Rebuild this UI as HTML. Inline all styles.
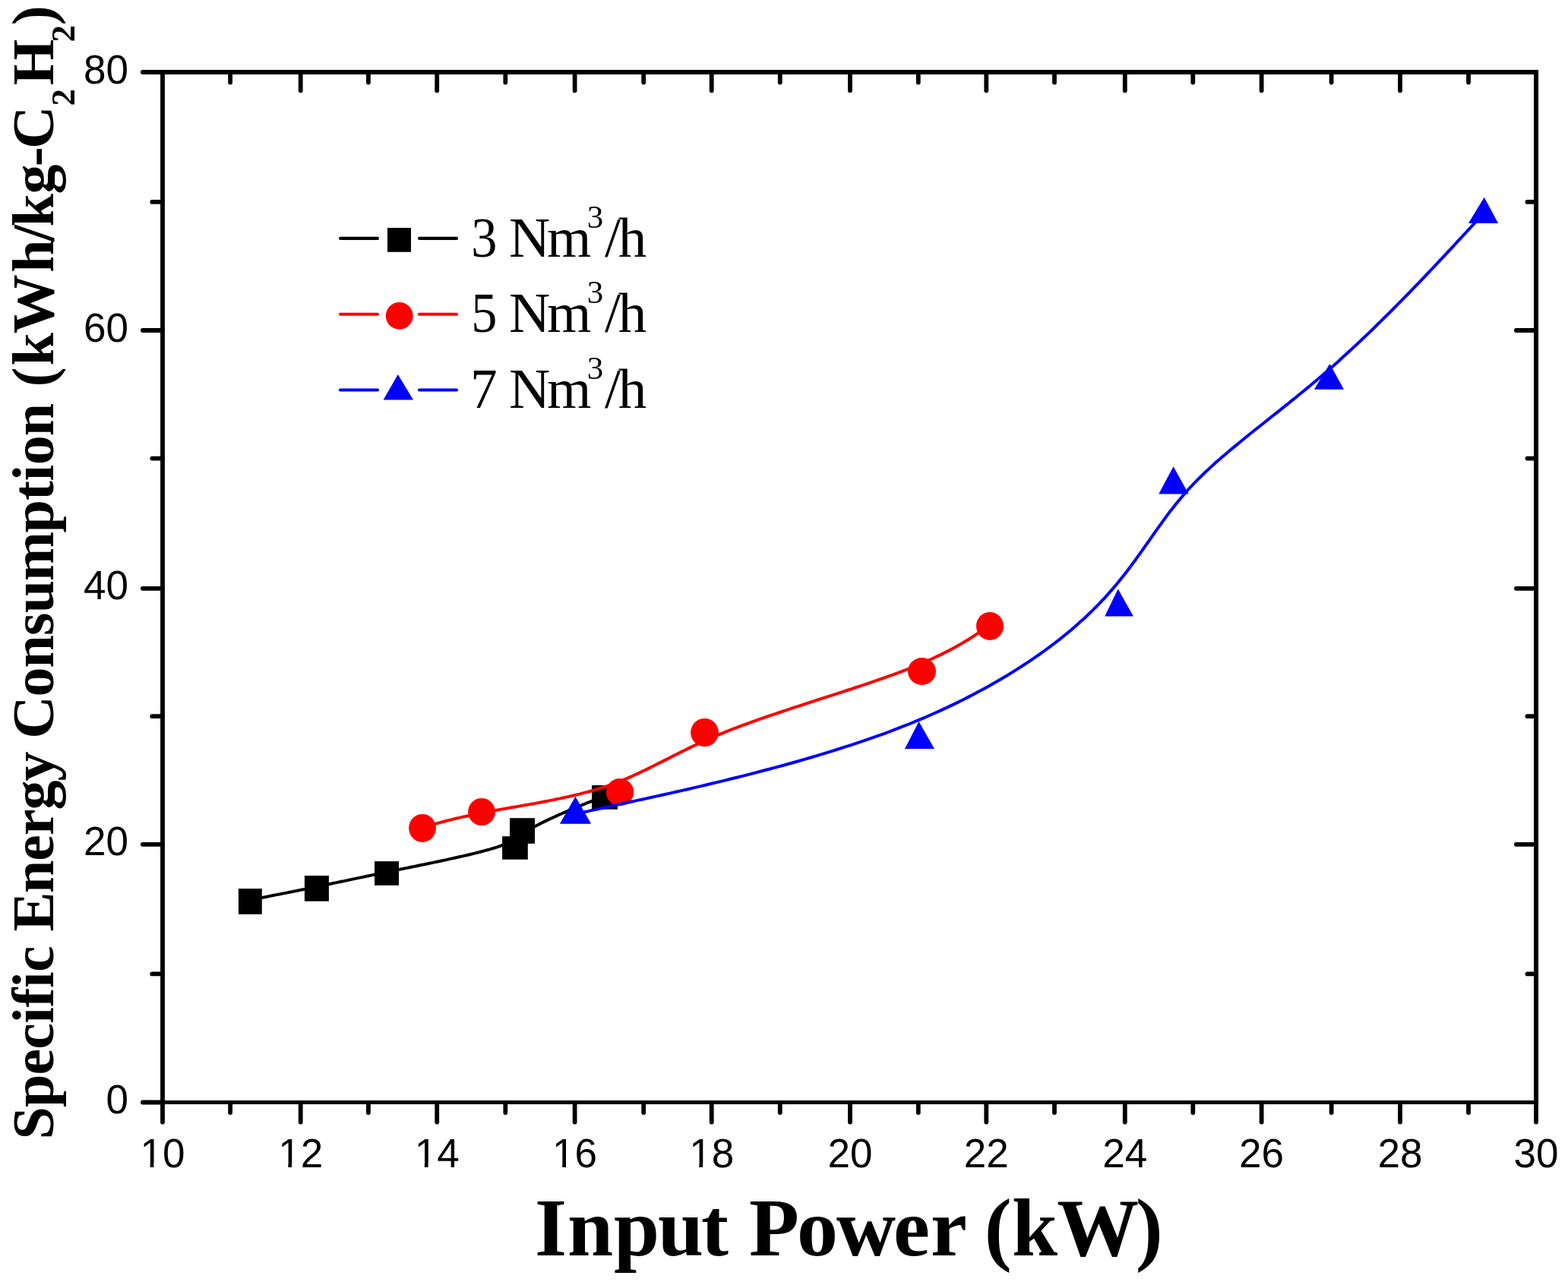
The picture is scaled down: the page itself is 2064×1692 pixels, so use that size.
<!DOCTYPE html>
<html><head><meta charset="utf-8"><title>Specific Energy Consumption vs Input Power</title>
<style>html,body{margin:0;padding:0;background:#fff;overflow:hidden;}svg{display:block;}</style>
</head><body>
<svg width="2064" height="1692" viewBox="0 0 2064 1692">
<rect width="2064" height="1692" fill="#fff"/>
<path d="M329.4,1184.9 L329.5,1184.9 L329.6,1184.9 L329.7,1184.9 L329.8,1184.9 L329.9,1184.9 L330.1,1184.8 L330.2,1184.8 L330.3,1184.8 L330.5,1184.7 L330.7,1184.7 L330.9,1184.7 L331.1,1184.6 L331.4,1184.6 L331.7,1184.5 L332.0,1184.4 L332.3,1184.4 L332.7,1184.3 L333.1,1184.2 L333.5,1184.2 L333.9,1184.1 L334.4,1184.0 L334.9,1183.9 L335.5,1183.8 L336.1,1183.6 L336.7,1183.5 L337.4,1183.4 L338.1,1183.3 L338.8,1183.1 L339.6,1183.0 L340.4,1182.8 L341.3,1182.6 L342.2,1182.5 L343.1,1182.3 L344.2,1182.1 L345.2,1181.9 L346.3,1181.7 L347.4,1181.4 L348.6,1181.2 L349.9,1181.0 L351.1,1180.7 L352.4,1180.4 L353.8,1180.2 L355.2,1179.9 L356.6,1179.6 L358.1,1179.3 L359.6,1179.0 L361.1,1178.7 L362.7,1178.4 L364.3,1178.1 L365.9,1177.8 L367.6,1177.5 L369.3,1177.1 L371.0,1176.8 L372.8,1176.4 L374.6,1176.1 L376.4,1175.7 L378.2,1175.4 L380.1,1175.0 L381.9,1174.6 L383.8,1174.2 L385.7,1173.9 L387.7,1173.5 L389.6,1173.1 L391.6,1172.7 L393.6,1172.3 L395.6,1171.9 L397.6,1171.5 L399.6,1171.1 L401.7,1170.7 L403.7,1170.2 L405.8,1169.8 L407.8,1169.4 L409.9,1169.0 L412.0,1168.5 L414.1,1168.1 L416.2,1167.7 L418.3,1167.3 L420.4,1166.8 L422.5,1166.4 L424.6,1166.0 L426.7,1165.5 L428.8,1165.1 L430.9,1164.6 L433.1,1164.2 L435.2,1163.7 L437.4,1163.3 L439.5,1162.8 L441.7,1162.4 L443.9,1161.9 L446.1,1161.5 L448.3,1161.0 L450.5,1160.5 L452.8,1160.1 L455.1,1159.6 L457.3,1159.1 L459.6,1158.6 L462.0,1158.1 L464.3,1157.6 L466.7,1157.1 L469.1,1156.6 L471.5,1156.1 L473.9,1155.6 L476.4,1155.1 L478.9,1154.6 L481.4,1154.0 L483.9,1153.5 L486.5,1153.0 L489.1,1152.4 L491.8,1151.9 L494.4,1151.3 L497.1,1150.8 L499.9,1150.2 L502.7,1149.6 L505.5,1149.0 L508.3,1148.5 L511.2,1147.9 L514.1,1147.3 L517.1,1146.7 L520.1,1146.0 L523.1,1145.4 L526.2,1144.8 L529.3,1144.1 L532.5,1143.5 L535.7,1142.9 L538.9,1142.2 L542.1,1141.5 L545.4,1140.9 L548.7,1140.2 L552.0,1139.5 L555.3,1138.8 L558.6,1138.2 L561.9,1137.5 L565.3,1136.8 L568.6,1136.1 L571.9,1135.4 L575.3,1134.7 L578.6,1134.0 L581.9,1133.3 L585.2,1132.6 L588.5,1131.9 L591.8,1131.1 L595.0,1130.4 L598.2,1129.7 L601.4,1129.0 L604.6,1128.3 L607.7,1127.6 L610.8,1126.9 L613.8,1126.2 L616.8,1125.5 L619.8,1124.8 L622.7,1124.1 L625.5,1123.4 L628.3,1122.7 L631.0,1122.0 L633.7,1121.3 L636.3,1120.6 L638.9,1119.9 L641.4,1119.2 L643.8,1118.6 L646.1,1117.9 L648.3,1117.2 L650.5,1116.6 L652.6,1115.9 L654.6,1115.3 L656.5,1114.6 L658.3,1114.0 L660.0,1113.4 L661.7,1112.7 L663.3,1112.1 L664.9,1111.5 L666.4,1110.9 L667.8,1110.3 L669.2,1109.6 L670.5,1109.0 L671.8,1108.4 L673.0,1107.8 L674.2,1107.2 L675.4,1106.6 L676.5,1106.0 L677.5,1105.4 L678.6,1104.8 L679.6,1104.1 L680.6,1103.5 L681.6,1102.9 L682.6,1102.3 L683.5,1101.7 L684.5,1101.0 L685.4,1100.4 L686.3,1099.8 L687.3,1099.1 L688.2,1098.5 L689.2,1097.8 L690.1,1097.2 L691.1,1096.5 L692.1,1095.8 L693.1,1095.1 L694.1,1094.5 L695.2,1093.8 L696.3,1093.1 L697.4,1092.3 L698.5,1091.6 L699.7,1090.9 L701.0,1090.1 L702.3,1089.4 L703.6,1088.6 L705.0,1087.8 L706.4,1087.0 L707.9,1086.2 L709.4,1085.4 L711.0,1084.6 L712.6,1083.8 L714.3,1082.9 L716.0,1082.1 L717.7,1081.3 L719.5,1080.4 L721.3,1079.6 L723.1,1078.7 L724.9,1077.8 L726.8,1077.0 L728.7,1076.1 L730.6,1075.3 L732.5,1074.4 L734.4,1073.5 L736.3,1072.7 L738.2,1071.8 L740.2,1071.0 L742.1,1070.2 L744.0,1069.3 L745.9,1068.5 L747.8,1067.7 L749.7,1066.9 L751.6,1066.1 L753.5,1065.3 L755.3,1064.5 L757.1,1063.7 L758.9,1063.0 L760.7,1062.2 L762.5,1061.5 L764.2,1060.8 L765.9,1060.1 L767.5,1059.4 L769.1,1058.8 L770.6,1058.2 L772.2,1057.5 L773.6,1056.9 L775.0,1056.4 L776.4,1055.8 L777.7,1055.3 L778.9,1054.8 L780.1,1054.3 L781.3,1053.8 L782.3,1053.4 L783.4,1053.0 L784.3,1052.6 L785.2,1052.2 L786.1,1051.9 L786.9,1051.5 L787.7,1051.2 L788.4,1050.9 L789.1,1050.6 L789.8,1050.4 L790.3,1050.1 L790.9,1049.9 L791.4,1049.7 L791.9,1049.5 L792.4,1049.3 L792.8,1049.1 L793.2,1049.0 L793.5,1048.8 L793.8,1048.7 L794.1,1048.6 L794.4,1048.5 L794.6,1048.4 L794.8,1048.3 L795.0,1048.2 L795.2,1048.2 L795.3,1048.1 L795.4,1048.1 L795.6,1048.0 L795.7,1047.9 L795.8,1047.9 L795.9,1047.9 L796.0,1047.8" fill="none" stroke="#000" stroke-width="4.0" stroke-linejoin="round"/>
<rect x="313.9" y="1170.1" width="30.9" height="33.7" fill="#000"/>
<rect x="400.9" y="1153.0" width="32.0" height="33.7" fill="#000"/>
<rect x="493.0" y="1134.1" width="32.0" height="31.7" fill="#000"/>
<rect x="661.1" y="1101.2" width="33.7" height="30.5" fill="#000"/>
<rect x="671.0" y="1077.2" width="33.0" height="33.6" fill="#000"/>
<rect x="779.0" y="1034.0" width="33.9" height="31.7" fill="#000"/>
<path d="M555.9,1089.4 L556.0,1089.4 L556.1,1089.4 L556.2,1089.3 L556.3,1089.3 L556.4,1089.3 L556.5,1089.2 L556.6,1089.2 L556.8,1089.2 L556.9,1089.1 L557.1,1089.1 L557.3,1089.0 L557.5,1089.0 L557.7,1088.9 L558.0,1088.8 L558.2,1088.8 L558.5,1088.7 L558.9,1088.6 L559.2,1088.5 L559.6,1088.4 L560.0,1088.3 L560.4,1088.2 L560.9,1088.0 L561.4,1087.9 L561.9,1087.8 L562.4,1087.6 L563.0,1087.5 L563.7,1087.3 L564.3,1087.1 L565.0,1086.9 L565.7,1086.7 L566.5,1086.5 L567.3,1086.3 L568.2,1086.0 L569.1,1085.8 L570.0,1085.5 L571.0,1085.3 L572.0,1085.0 L573.1,1084.7 L574.2,1084.4 L575.4,1084.1 L576.6,1083.8 L577.8,1083.4 L579.1,1083.1 L580.4,1082.7 L581.8,1082.4 L583.2,1082.0 L584.7,1081.6 L586.2,1081.2 L587.8,1080.8 L589.4,1080.4 L591.1,1080.0 L592.8,1079.6 L594.5,1079.1 L596.3,1078.7 L598.2,1078.3 L600.1,1077.8 L602.1,1077.3 L604.1,1076.9 L606.1,1076.4 L608.2,1075.9 L610.4,1075.4 L612.6,1075.0 L614.9,1074.5 L617.2,1074.0 L619.5,1073.4 L622.0,1072.9 L624.4,1072.4 L627.0,1071.9 L629.5,1071.4 L632.2,1070.8 L634.9,1070.3 L637.6,1069.8 L640.4,1069.2 L643.3,1068.7 L646.2,1068.1 L649.1,1067.6 L652.2,1067.0 L655.2,1066.5 L658.4,1065.9 L661.5,1065.4 L664.8,1064.8 L668.1,1064.2 L671.4,1063.6 L674.7,1063.1 L678.2,1062.5 L681.6,1061.9 L685.1,1061.3 L688.6,1060.6 L692.1,1060.0 L695.7,1059.4 L699.3,1058.7 L702.9,1058.1 L706.6,1057.4 L710.3,1056.7 L714.0,1056.0 L717.7,1055.3 L721.4,1054.6 L725.1,1053.9 L728.9,1053.1 L732.6,1052.3 L736.4,1051.6 L740.1,1050.8 L743.9,1049.9 L747.6,1049.1 L751.4,1048.2 L755.1,1047.4 L758.9,1046.5 L762.6,1045.6 L766.3,1044.6 L770.0,1043.6 L773.7,1042.7 L777.3,1041.7 L781.0,1040.6 L784.6,1039.6 L788.2,1038.5 L791.7,1037.4 L795.3,1036.2 L798.8,1035.1 L802.2,1033.9 L805.7,1032.7 L809.1,1031.4 L812.4,1030.2 L815.7,1028.9 L819.0,1027.5 L822.3,1026.2 L825.6,1024.8 L828.8,1023.4 L832.0,1022.0 L835.2,1020.5 L838.4,1019.1 L841.6,1017.6 L844.8,1016.0 L848.0,1014.5 L851.2,1013.0 L854.4,1011.4 L857.6,1009.8 L860.8,1008.2 L864.0,1006.5 L867.3,1004.9 L870.6,1003.2 L873.9,1001.6 L877.2,999.9 L880.6,998.2 L884.0,996.4 L887.4,994.7 L890.9,993.0 L894.4,991.2 L898.0,989.4 L901.6,987.7 L905.2,985.9 L909.0,984.1 L912.7,982.3 L916.6,980.5 L920.5,978.6 L924.5,976.8 L928.5,975.0 L932.7,973.2 L936.9,971.3 L941.2,969.5 L945.5,967.6 L950.0,965.8 L954.6,963.9 L959.2,962.1 L963.9,960.2 L968.8,958.3 L973.7,956.5 L978.7,954.6 L983.7,952.8 L988.8,950.9 L994.0,949.1 L999.3,947.2 L1004.6,945.4 L1009.9,943.5 L1015.3,941.7 L1020.8,939.8 L1026.3,938.0 L1031.8,936.1 L1037.3,934.3 L1042.9,932.4 L1048.4,930.6 L1054.0,928.8 L1059.6,927.0 L1065.2,925.1 L1070.8,923.3 L1076.4,921.5 L1082.0,919.7 L1087.5,917.9 L1093.1,916.1 L1098.6,914.4 L1104.0,912.6 L1109.5,910.8 L1114.9,909.0 L1120.3,907.3 L1125.6,905.5 L1130.8,903.8 L1136.0,902.1 L1141.2,900.3 L1146.3,898.6 L1151.3,896.9 L1156.2,895.2 L1161.0,893.5 L1165.8,891.9 L1170.4,890.2 L1175.0,888.6 L1179.5,886.9 L1183.8,885.3 L1188.1,883.7 L1192.2,882.1 L1196.3,880.5 L1200.2,878.9 L1204.1,877.3 L1207.8,875.8 L1211.4,874.2 L1215.0,872.7 L1218.4,871.2 L1221.8,869.7 L1225.1,868.2 L1228.3,866.8 L1231.3,865.3 L1234.3,863.9 L1237.3,862.5 L1240.1,861.1 L1242.8,859.7 L1245.5,858.4 L1248.1,857.1 L1250.6,855.8 L1253.0,854.5 L1255.3,853.2 L1257.6,852.0 L1259.8,850.8 L1261.9,849.6 L1263.9,848.4 L1265.9,847.3 L1267.8,846.2 L1269.7,845.1 L1271.4,844.0 L1273.1,843.0 L1274.8,842.0 L1276.3,841.0 L1277.9,840.0 L1279.3,839.1 L1280.7,838.2 L1282.1,837.3 L1283.4,836.5 L1284.6,835.7 L1285.8,834.9 L1286.9,834.1 L1288.0,833.4 L1289.0,832.7 L1290.0,832.1 L1290.9,831.5 L1291.8,830.9 L1292.6,830.3 L1293.4,829.8 L1294.2,829.3 L1294.9,828.8 L1295.6,828.4 L1296.2,827.9 L1296.8,827.5 L1297.4,827.2 L1297.9,826.8 L1298.4,826.5 L1298.9,826.2 L1299.3,825.9 L1299.7,825.6 L1300.1,825.4 L1300.4,825.1 L1300.7,824.9 L1301.0,824.7 L1301.3,824.6 L1301.5,824.4 L1301.7,824.3 L1301.9,824.1 L1302.1,824.0 L1302.3,823.9 L1302.4,823.8 L1302.5,823.7 L1302.6,823.7 L1302.7,823.6 L1302.8,823.6 L1302.9,823.5 L1303.0,823.5 L1303.0,823.4" fill="none" stroke="#f00" stroke-width="4.0" stroke-linejoin="round"/>
<ellipse cx="556.0" cy="1090.4" rx="17.9" ry="18.5" fill="#f00"/>
<ellipse cx="634.0" cy="1069.0" rx="17.9" ry="18.0" fill="#f00"/>
<ellipse cx="816.0" cy="1043.0" rx="18.2" ry="18.0" fill="#f00"/>
<ellipse cx="927.5" cy="964.5" rx="18.4" ry="18.6" fill="#f00"/>
<ellipse cx="1213.5" cy="884.0" rx="18.5" ry="17.9" fill="#f00"/>
<ellipse cx="1303.0" cy="824.4" rx="18.0" ry="18.5" fill="#f00"/>
<path d="M757.5,1071.7 L757.6,1071.7 L757.7,1071.7 L757.8,1071.7 L758.0,1071.6 L758.2,1071.6 L758.5,1071.5 L758.8,1071.5 L759.2,1071.4 L759.6,1071.3 L760.1,1071.2 L760.7,1071.0 L761.4,1070.9 L762.2,1070.7 L763.1,1070.5 L764.1,1070.3 L765.2,1070.1 L766.4,1069.8 L767.7,1069.5 L769.2,1069.2 L770.8,1068.8 L772.5,1068.5 L774.4,1068.1 L776.4,1067.6 L778.6,1067.1 L780.9,1066.6 L783.4,1066.1 L786.1,1065.5 L788.9,1064.9 L792.0,1064.2 L795.2,1063.5 L798.6,1062.8 L802.2,1062.0 L806.1,1061.1 L810.1,1060.3 L814.4,1059.3 L818.9,1058.4 L823.6,1057.3 L828.6,1056.2 L833.8,1055.1 L839.2,1053.9 L844.9,1052.7 L850.8,1051.4 L856.9,1050.0 L863.3,1048.6 L869.8,1047.2 L876.5,1045.7 L883.5,1044.1 L890.6,1042.5 L897.9,1040.9 L905.3,1039.2 L912.9,1037.4 L920.7,1035.6 L928.6,1033.7 L936.6,1031.8 L944.7,1029.9 L953.0,1027.9 L961.3,1025.8 L969.8,1023.7 L978.4,1021.6 L987.0,1019.4 L995.7,1017.1 L1004.5,1014.8 L1013.3,1012.5 L1022.2,1010.1 L1031.1,1007.7 L1040.1,1005.2 L1049.0,1002.7 L1058.0,1000.1 L1067.0,997.5 L1076.0,994.8 L1085.0,992.1 L1094.0,989.3 L1103.0,986.5 L1111.9,983.7 L1120.8,980.8 L1129.6,977.9 L1138.4,974.9 L1147.1,971.9 L1155.7,968.9 L1164.3,965.8 L1172.8,962.6 L1181.1,959.4 L1189.4,956.2 L1197.6,953.0 L1205.6,949.7 L1213.6,946.3 L1221.4,943.0 L1229.2,939.5 L1236.8,936.1 L1244.4,932.6 L1251.8,929.1 L1259.1,925.6 L1266.4,922.0 L1273.5,918.4 L1280.5,914.8 L1287.4,911.1 L1294.2,907.5 L1301.0,903.8 L1307.6,900.0 L1314.1,896.3 L1320.5,892.5 L1326.8,888.8 L1333.0,884.9 L1339.0,881.1 L1345.0,877.3 L1350.9,873.4 L1356.7,869.6 L1362.4,865.7 L1367.9,861.8 L1373.4,857.9 L1378.8,854.0 L1384.0,850.1 L1389.2,846.2 L1394.2,842.3 L1399.2,838.3 L1404.0,834.4 L1408.8,830.5 L1413.4,826.5 L1417.9,822.6 L1422.3,818.6 L1426.7,814.7 L1430.9,810.8 L1435.0,806.8 L1439.0,802.9 L1442.9,799.0 L1446.7,795.1 L1450.4,791.2 L1454.1,787.3 L1457.6,783.4 L1461.0,779.5 L1464.4,775.7 L1467.7,771.8 L1470.9,768.0 L1474.0,764.1 L1477.1,760.3 L1480.1,756.5 L1483.1,752.7 L1486.0,748.8 L1488.8,745.0 L1491.6,741.3 L1494.4,737.5 L1497.1,733.7 L1499.8,730.0 L1502.5,726.2 L1505.1,722.5 L1507.8,718.7 L1510.4,715.0 L1513.0,711.3 L1515.6,707.6 L1518.2,703.9 L1520.8,700.2 L1523.3,696.6 L1526.0,692.9 L1528.6,689.3 L1531.2,685.6 L1533.9,682.0 L1536.5,678.4 L1539.2,674.8 L1542.0,671.2 L1544.8,667.7 L1547.6,664.1 L1550.5,660.5 L1553.4,657.0 L1556.4,653.5 L1559.4,650.0 L1562.5,646.5 L1565.6,643.0 L1568.9,639.5 L1572.2,636.0 L1575.5,632.6 L1579.0,629.1 L1582.5,625.7 L1586.0,622.3 L1589.7,618.9 L1593.4,615.4 L1597.1,612.0 L1600.9,608.6 L1604.8,605.2 L1608.7,601.8 L1612.7,598.4 L1616.7,595.0 L1620.8,591.5 L1624.9,588.1 L1629.1,584.7 L1633.3,581.2 L1637.5,577.7 L1641.8,574.3 L1646.1,570.8 L1650.5,567.3 L1654.9,563.8 L1659.4,560.2 L1663.8,556.7 L1668.3,553.1 L1672.8,549.5 L1677.4,545.9 L1682.0,542.3 L1686.6,538.6 L1691.2,534.9 L1695.9,531.2 L1700.5,527.4 L1705.2,523.7 L1709.9,519.8 L1714.6,516.0 L1719.3,512.1 L1724.1,508.2 L1728.8,504.2 L1733.5,500.3 L1738.3,496.2 L1743.1,492.1 L1747.8,488.0 L1752.6,483.9 L1757.3,479.7 L1762.1,475.4 L1766.8,471.1 L1771.5,466.8 L1776.2,462.5 L1780.9,458.1 L1785.6,453.8 L1790.3,449.4 L1794.9,445.0 L1799.5,440.6 L1804.1,436.2 L1808.7,431.7 L1813.2,427.3 L1817.7,422.9 L1822.1,418.5 L1826.5,414.2 L1830.9,409.8 L1835.2,405.5 L1839.5,401.2 L1843.7,396.9 L1847.9,392.7 L1852.0,388.5 L1856.0,384.3 L1860.0,380.2 L1863.9,376.1 L1867.8,372.1 L1871.6,368.2 L1875.3,364.3 L1878.9,360.5 L1882.5,356.7 L1886.0,353.0 L1889.4,349.4 L1892.7,345.9 L1895.9,342.4 L1899.1,339.1 L1902.1,335.8 L1905.1,332.7 L1907.9,329.6 L1910.7,326.6 L1913.3,323.8 L1915.9,321.0 L1918.3,318.4 L1920.6,315.9 L1922.9,313.5 L1925.0,311.2 L1927.0,309.0 L1928.9,307.0 L1930.7,305.0 L1932.4,303.2 L1934.1,301.4 L1935.6,299.8 L1937.0,298.2 L1938.4,296.7 L1939.7,295.3 L1940.9,294.1 L1942.0,292.8 L1943.1,291.7 L1944.0,290.7 L1944.9,289.7 L1945.8,288.8 L1946.6,287.9 L1947.3,287.2 L1947.9,286.5 L1948.5,285.8 L1949.1,285.2 L1949.6,284.7 L1950.0,284.2 L1950.4,283.8 L1950.7,283.4 L1951.0,283.1 L1951.3,282.8 L1951.6,282.6 L1951.8,282.3 L1951.9,282.2 L1952.1,282.0 L1952.2,281.9 L1952.3,281.8 L1952.4,281.7 L1952.4,281.6 L1952.5,281.6 L1952.5,281.5" fill="none" stroke="#00f" stroke-width="4.0" stroke-linejoin="round"/>
<path d="M757.4,1048.8 L778.1,1084.7 L736.9,1084.7 Z" fill="#00f"/>
<path d="M1209.5,950.0 L1230.0,986.0 L1191.0,986.0 Z" fill="#00f"/>
<path d="M1471.7,775.4 L1491.9,811.4 L1454.2,811.4 Z" fill="#00f"/>
<path d="M1544.6,614.3 L1564.6,650.6 L1525.2,650.6 Z" fill="#00f"/>
<path d="M1750.4,478.9 L1769.0,512.8 L1729.8,512.8 Z" fill="#00f"/>
<path d="M1953.7,259.8 L1972.1,293.9 L1932.9,293.9 Z" fill="#00f"/>
<g stroke="#000"><line x1="214.0" y1="1451.5" x2="2022.0" y2="1451.5" stroke-width="5.0" stroke-linecap="square"/><line x1="214.0" y1="95.0" x2="2022.0" y2="95.0" stroke-width="6.0" stroke-linecap="square"/><line x1="214.0" y1="95.0" x2="214.0" y2="1451.5" stroke-width="5.8" stroke-linecap="square"/><line x1="2022.0" y1="95.0" x2="2022.0" y2="1451.5" stroke-width="6.0" stroke-linecap="square"/></g>
<g stroke="#000" stroke-width="5.8" stroke-linecap="round"><line x1="214.0" y1="1452.0" x2="214.0" y2="1477.5"/><line x1="303.1" y1="1452.0" x2="303.1" y2="1465.1"/><line x1="303.1" y1="95.0" x2="303.1" y2="108.6"/><line x1="395.7" y1="1452.0" x2="395.7" y2="1477.5"/><line x1="395.7" y1="95.0" x2="395.7" y2="119.3"/><line x1="484.9" y1="1452.0" x2="484.9" y2="1465.1"/><line x1="484.9" y1="95.0" x2="484.9" y2="108.6"/><line x1="575.2" y1="1452.0" x2="575.2" y2="1477.5"/><line x1="575.2" y1="95.0" x2="575.2" y2="119.3"/><line x1="665.3" y1="1452.0" x2="665.3" y2="1465.1"/><line x1="665.3" y1="95.0" x2="665.3" y2="108.6"/><line x1="756.6" y1="1452.0" x2="756.6" y2="1477.5"/><line x1="756.6" y1="95.0" x2="756.6" y2="119.3"/><line x1="847.2" y1="1452.0" x2="847.2" y2="1465.1"/><line x1="847.2" y1="95.0" x2="847.2" y2="108.6"/><line x1="936.7" y1="1452.0" x2="936.7" y2="1477.5"/><line x1="936.7" y1="95.0" x2="936.7" y2="119.3"/><line x1="1026.8" y1="1452.0" x2="1026.8" y2="1465.1"/><line x1="1026.8" y1="95.0" x2="1026.8" y2="108.6"/><line x1="1119.0" y1="1452.0" x2="1119.0" y2="1477.5"/><line x1="1119.0" y1="95.0" x2="1119.0" y2="119.3"/><line x1="1208.8" y1="1452.0" x2="1208.8" y2="1465.1"/><line x1="1208.8" y1="95.0" x2="1208.8" y2="108.6"/><line x1="1298.3" y1="1452.0" x2="1298.3" y2="1477.5"/><line x1="1298.3" y1="95.0" x2="1298.3" y2="119.3"/><line x1="1388.0" y1="1452.0" x2="1388.0" y2="1465.1"/><line x1="1388.0" y1="95.0" x2="1388.0" y2="108.6"/><line x1="1480.8" y1="1452.0" x2="1480.8" y2="1477.5"/><line x1="1480.8" y1="95.0" x2="1480.8" y2="119.3"/><line x1="1570.3" y1="1452.0" x2="1570.3" y2="1465.1"/><line x1="1570.3" y1="95.0" x2="1570.3" y2="108.6"/><line x1="1660.6" y1="1452.0" x2="1660.6" y2="1477.5"/><line x1="1660.6" y1="95.0" x2="1660.6" y2="119.3"/><line x1="1752.6" y1="1452.0" x2="1752.6" y2="1465.1"/><line x1="1752.6" y1="95.0" x2="1752.6" y2="108.6"/><line x1="1843.0" y1="1452.0" x2="1843.0" y2="1477.5"/><line x1="1843.0" y1="95.0" x2="1843.0" y2="119.3"/><line x1="1933.0" y1="1452.0" x2="1933.0" y2="1465.1"/><line x1="1933.0" y1="95.0" x2="1933.0" y2="108.6"/><line x1="2022.0" y1="1452.0" x2="2022.0" y2="1477.5"/><line x1="214.0" y1="1451.5" x2="187.9" y2="1451.5"/><line x1="214.0" y1="1282.4" x2="200.3" y2="1282.4"/><line x1="2022.0" y1="1282.4" x2="2010.5" y2="1282.4"/><line x1="214.0" y1="1111.8" x2="187.9" y2="1111.8"/><line x1="2022.0" y1="1111.8" x2="1995.9" y2="1111.8"/><line x1="214.0" y1="943.2" x2="200.3" y2="943.2"/><line x1="2022.0" y1="943.2" x2="2010.5" y2="943.2"/><line x1="214.0" y1="774.8" x2="187.9" y2="774.8"/><line x1="2022.0" y1="774.8" x2="1995.9" y2="774.8"/><line x1="214.0" y1="603.6" x2="200.3" y2="603.6"/><line x1="2022.0" y1="603.6" x2="2010.5" y2="603.6"/><line x1="214.0" y1="435.0" x2="187.9" y2="435.0"/><line x1="2022.0" y1="435.0" x2="1995.9" y2="435.0"/><line x1="214.0" y1="265.9" x2="200.3" y2="265.9"/><line x1="2022.0" y1="265.9" x2="2010.5" y2="265.9"/><line x1="214.0" y1="95.0" x2="187.9" y2="95.0"/></g>
<g font-family="'Liberation Sans', Arial, sans-serif" font-size="53" fill="#000"><text x="214.0" y="1537" text-anchor="middle">10</text><text x="395.7" y="1537" text-anchor="middle">12</text><text x="575.2" y="1537" text-anchor="middle">14</text><text x="756.6" y="1537" text-anchor="middle">16</text><text x="936.7" y="1537" text-anchor="middle">18</text><text x="1119.0" y="1537" text-anchor="middle">20</text><text x="1298.3" y="1537" text-anchor="middle">22</text><text x="1480.8" y="1537" text-anchor="middle">24</text><text x="1660.6" y="1537" text-anchor="middle">26</text><text x="1843.0" y="1537" text-anchor="middle">28</text><text x="2022.0" y="1537" text-anchor="middle">30</text><text x="169" y="1466.0" text-anchor="end">0</text><text x="169" y="1126.3" text-anchor="end">20</text><text x="169" y="789.3" text-anchor="end">40</text><text x="169" y="449.5" text-anchor="end">60</text><text x="169" y="109.5" text-anchor="end">80</text></g>
<g fill="#fff"><rect x="187.7" y="1532.4" width="9.9" height="5.2"/><rect x="202.4" y="1532.4" width="9.9" height="5.2"/><rect x="369.4" y="1532.4" width="9.9" height="5.2"/><rect x="384.1" y="1532.4" width="9.9" height="5.2"/><rect x="548.9" y="1532.4" width="9.9" height="5.2"/><rect x="563.6" y="1532.4" width="9.9" height="5.2"/><rect x="730.3" y="1532.4" width="9.9" height="5.2"/><rect x="745.0" y="1532.4" width="9.9" height="5.2"/><rect x="910.4" y="1532.4" width="9.9" height="5.2"/><rect x="925.1" y="1532.4" width="9.9" height="5.2"/></g>
<text x="704.0 747.1 808.0 865.9 923.0 953.0 986.1 1048.9 1101.0 1176.0 1225.0 1255.0 1295.8 1332.1 1391.2 1494.7" y="1652.7" font-family="'Liberation Serif', 'Times New Roman', serif" font-weight="bold" font-size="108" fill="#000">Input Power (kW)</text>
<text transform="rotate(-90)" y="70" font-family="'Liberation Serif', 'Times New Roman', serif" font-weight="bold" font-size="78" fill="#000"><tspan x="-1500.5 -1458.0 -1415.6 -1381.7 -1347.8 -1326.5 -1301.1 -1279.9">Specific </tspan><tspan x="-1226.6 -1176.0 -1133.7 -1100.1 -1066.4 -1028.4">Energy </tspan><tspan x="-972.7 -917.6 -879.5 -837.0 -807.3 -764.9 -701.4 -658.9 -633.5 -612.3 -574.2">Consumption </tspan><tspan x="-509.6 -481.4 -439.2 -358.8 -318.0 -298.6 -255.4 -219.2 -196.1">(kWh/kg-C</tspan><tspan x="-139.5" y="97.5" font-size="45">2</tspan><tspan x="-112.2" y="70">H</tspan><tspan x="-55.6" y="97.5" font-size="45">2</tspan><tspan x="-33.2" y="70">)</tspan></text>
<g font-family="'Liberation Serif', 'Times New Roman', serif" fill="#000"><line x1="448" y1="313.9" x2="497" y2="313.9" stroke="#000" stroke-width="4.1" stroke-linecap="round"/><line x1="552" y1="313.9" x2="601" y2="313.9" stroke="#000" stroke-width="4.1" stroke-linecap="round"/><rect x="510" y="300" width="31" height="31.8" fill="#000"/><text y="338.2" font-size="75"><tspan x="620.3" textLength="34.1" lengthAdjust="spacingAndGlyphs">3</tspan><tspan> </tspan><tspan x="670.0 720.0">Nm</tspan><tspan x="772.7" y="300.0" font-size="43">3</tspan><tspan x="795.9 813.7" y="338.2">/h</tspan></text><line x1="448" y1="413.7" x2="497" y2="413.7" stroke="#f00" stroke-width="4.1" stroke-linecap="round"/><line x1="552" y1="413.7" x2="601" y2="413.7" stroke="#f00" stroke-width="4.1" stroke-linecap="round"/><ellipse cx="525.7" cy="415.8" rx="17.9" ry="17.9" fill="#f00"/><text y="436.8" font-size="75"><tspan x="620.3" textLength="34.1" lengthAdjust="spacingAndGlyphs">5</tspan><tspan> </tspan><tspan x="670.0 720.0">Nm</tspan><tspan x="772.7" y="398.6" font-size="43">3</tspan><tspan x="795.9 813.7" y="436.8">/h</tspan></text><line x1="448" y1="513.5" x2="497" y2="513.5" stroke="#00f" stroke-width="4.1" stroke-linecap="round"/><line x1="552" y1="513.5" x2="601" y2="513.5" stroke="#00f" stroke-width="4.1" stroke-linecap="round"/><path d="M523.8,493 L544,526.5 L504.6,526.5 Z" fill="#00f"/><text y="536.8" font-size="75"><tspan x="619.2" textLength="35.3" lengthAdjust="spacingAndGlyphs">7</tspan><tspan> </tspan><tspan x="670.0 720.0">Nm</tspan><tspan x="772.7" y="498.6" font-size="43">3</tspan><tspan x="795.9 813.7" y="536.8">/h</tspan></text></g>
</svg>
</body></html>
